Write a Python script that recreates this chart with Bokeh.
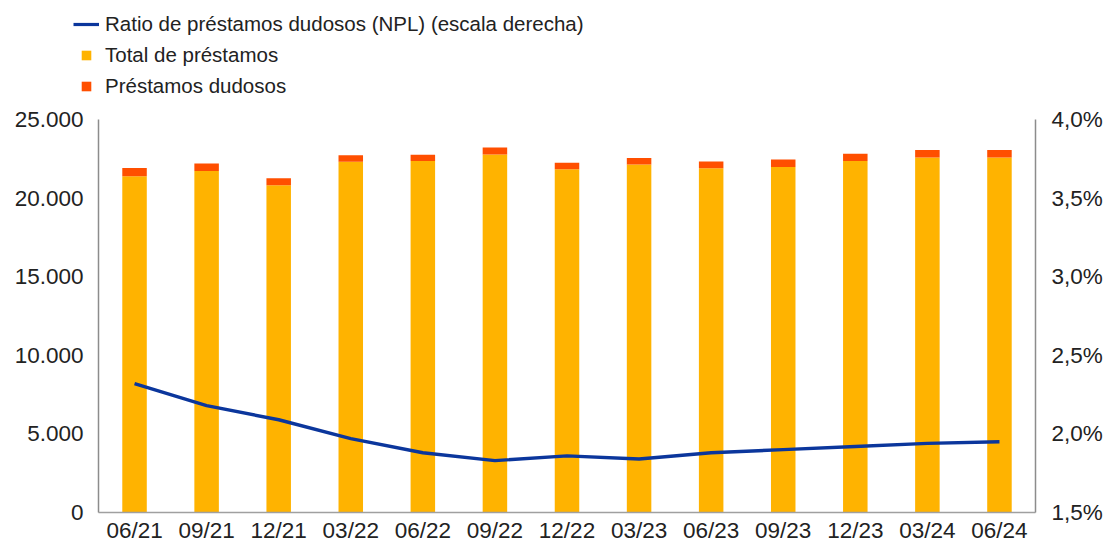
from bokeh.plotting import figure
from bokeh.layouts import column
from bokeh.models import (FactorRange, Range1d, LinearAxis, FixedTicker, Legend,
                          LegendItem, ColumnDataSource)
from bokeh.embed import file_html
from bokeh.resources import INLINE

periods = ["06/21", "09/21", "12/21", "03/22", "06/22", "09/22", "12/22",
           "03/23", "06/23", "09/23", "12/23", "03/24", "06/24"]
prestamos_total = [21390, 21730, 20820, 22320, 22360, 22770, 21830,
                   22130, 21900, 21980, 22360, 22590, 22590]
prestamos_dudosos = [525, 470, 443, 400, 405, 443, 424,
                     418, 424, 468, 468, 462, 462]
ratio_npl = [2.32, 2.18, 2.09, 1.97, 1.88, 1.83, 1.86,
             1.84, 1.88, 1.90, 1.92, 1.94, 1.95]

left_ticks = [0, 5000, 10000, 15000, 20000, 25000]
left_tick_labels = ["0", "5.000", "10.000", "15.000", "20.000", "25.000"]
right_ticks = [1.5, 2.0, 2.5, 3.0, 3.5, 4.0]
right_tick_labels = ["1,5%", "2,0%", "2,5%", "3,0%", "3,5%", "4,0%"]

label_npl = "Ratio de préstamos dudosos (NPL) (escala derecha)"
label_total = "Total de préstamos"
label_dudosos = "Préstamos dudosos"

YELLOW = "#FFB300"
RED = "#FF4F00"
BLUE = "#0B369C"
FONT = "Liberation Sans"
TXT = "#222222"

# ---- legend strip (top) ----
leg = figure(width=1106, height=100, x_range=Range1d(0, 1), y_range=Range1d(0, 1),
             output_backend="svg", toolbar_location=None, min_border=0,
             x_axis_location=None, y_axis_location=None)
leg.frame_align = False
leg.grid.visible = False
leg.outline_line_color = None
dummy = ColumnDataSource(dict(x=[0.0], y=[float("nan")]))
lg_line = leg.line(x="x", y="y", source=dummy, line_color=BLUE, line_width=3.2)
lg_total = leg.scatter(x="x", y="y", source=dummy, marker="square",
                       fill_color=YELLOW, line_color=None, size=9)
lg_dud = leg.scatter(x="x", y="y", source=dummy, marker="square",
                     fill_color=RED, line_color=None, size=9)
legend = Legend(items=[LegendItem(label=label_npl, renderers=[lg_line]),
                       LegendItem(label=label_total, renderers=[lg_total]),
                       LegendItem(label=label_dudosos, renderers=[lg_dud])],
                location=(73, 2), orientation="vertical",
                glyph_width=26, glyph_height=24, label_height=24, spacing=7,
                label_standoff=6, padding=0, margin=0,
                border_line_color=None, background_fill_alpha=0,
                label_text_font=FONT, label_text_font_size="20.5px",
                label_text_color=TXT)
leg.add_layout(legend)

# ---- main chart ----
src = ColumnDataSource(dict(periodo=periods, total=prestamos_total,
                            dudosos=prestamos_dudosos, ratio=ratio_npl))

p = figure(width=1106, height=445, x_range=FactorRange(*periods, range_padding=0),
           y_range=Range1d(0, 25000), output_backend="svg", toolbar_location=None,
           min_border_left=98, min_border_right=71, min_border_top=19,
           min_border_bottom=31)
p.frame_align = False
p.extra_y_ranges = {"ratio": Range1d(1.5, 4.0)}
p.outline_line_color = None
p.xgrid.visible = False
p.ygrid.visible = False
p.yaxis.visible = False

p.vbar_stack(["total", "dudosos"], x="periodo", width=0.34, source=src,
             color=[YELLOW, RED], line_color=None)

p.line(x="periodo", y="ratio", source=src, y_range_name="ratio",
       line_color=BLUE, line_width=3.4)

def style_axis(ax, standoff):
    ax.axis_line_color = "#8c8c8c"
    ax.axis_line_width = 1.5
    ax.major_tick_line_color = None
    ax.minor_tick_line_color = None
    ax.major_tick_out = 0
    ax.major_tick_in = 0
    ax.major_label_standoff = standoff
    ax.major_label_text_font = FONT
    ax.major_label_text_font_size = "22.5px"
    ax.major_label_text_color = TXT

left_axis = LinearAxis(ticker=FixedTicker(ticks=left_ticks),
                       major_label_overrides=dict(zip(left_ticks, left_tick_labels)))
style_axis(left_axis, 15)
p.add_layout(left_axis, "left")

right_axis = LinearAxis(y_range_name="ratio", ticker=FixedTicker(ticks=right_ticks),
                        major_label_overrides=dict(zip(right_ticks, right_tick_labels)))
style_axis(right_axis, 16)
p.add_layout(right_axis, "right")

style_axis(p.xaxis[0], 5)
p.xaxis[0].axis_line_color = "#a0a0a0"

layout = column(leg, p, spacing=0)
open("out.html", "w").write(file_html(layout, INLINE))
